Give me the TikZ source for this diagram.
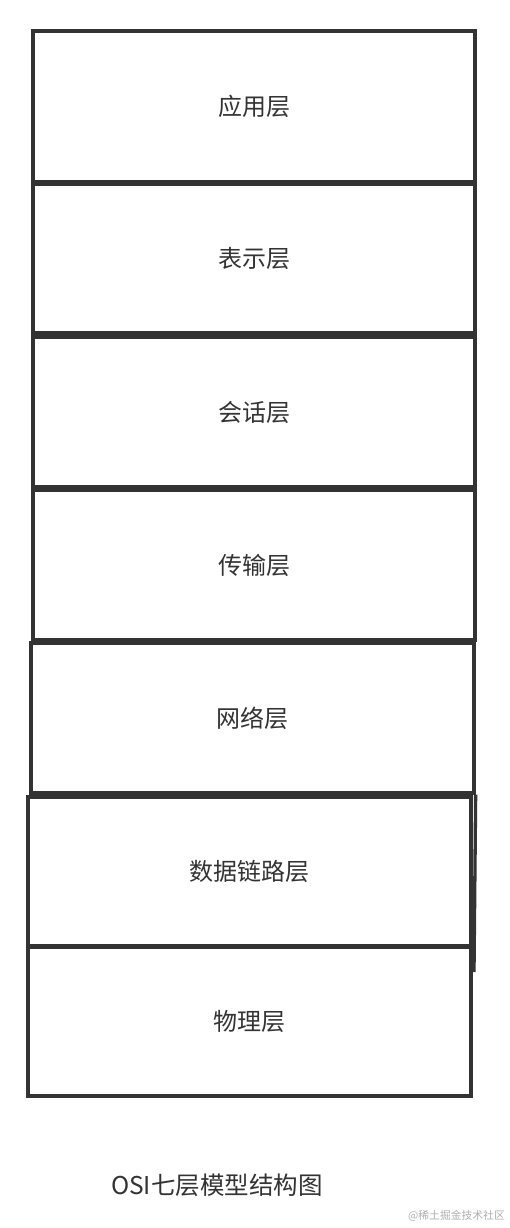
\documentclass[tikz,border=0pt]{standalone}
\usepackage{fontspec}
\setmainfont{Noto Sans CJK SC}
\newfontfamily\cjk{Noto Sans CJK SC}
\begin{document}
\begin{tikzpicture}[x=1pt,y=-1pt,
  layer/.style={draw=linec, line width=3.3pt, fill=none, inner sep=0pt, font=\cjk\fontsize{24}{27}\selectfont, text=textc},
  title/.style={inner sep=0pt, font=\cjk\fontsize{24.5}{27}\selectfont, text=textc, anchor=west},
  wmark/.style={inner sep=0pt, font=\cjk\fontsize{10.8}{12}\selectfont, text=markc, anchor=east}]
\definecolor{linec}{HTML}{333333}
\definecolor{textc}{HTML}{333333}
\definecolor{markc}{HTML}{B0B0B0}
\useasboundingbox (0,0) rectangle (510,1228);
\fill[white] (0,0) rectangle (510,1228);
\node[layer, minimum width=442pt, minimum height=151pt] (app) at (254,106.5) {应用层};
\node[layer, minimum width=442pt, minimum height=149pt] (pres) at (254,258.5) {表示层};
\node[layer, minimum width=442pt, minimum height=150pt] (sess) at (254,412) {会话层};
\node[layer, minimum width=442pt, minimum height=150pt] (trans) at (254,565) {传输层};
\node[layer, minimum width=443pt, minimum height=150pt] (net) at (252.5,718) {网络层};
\coordinate (ntail) at (474,972);
\draw[draw=linec, line width=3.3pt] (net.south east) -- (ntail);
\node[layer, minimum width=443pt, minimum height=149pt] (link) at (249.5,871.5) {数据链路层};
\node[layer, minimum width=443pt, minimum height=149pt] (phys) at (249.5,1021.5) {物理层};
\node[title] (cap) at (111,1185) {OSI七层模型结构图};
\node[wmark] (wm) at (505,1216) {@稀土掘金技术社区};
\end{tikzpicture}
\end{document}
